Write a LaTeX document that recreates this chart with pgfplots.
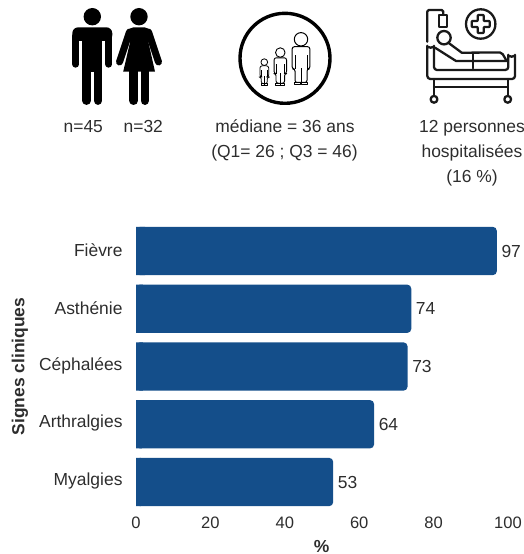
\documentclass[border=0pt]{standalone}
\usepackage{pgfplots}
\usepackage{pgfplotstable}
\pgfplotsset{compat=1.18}
\usepackage{fontspec}
\setmainfont{Liberation Sans}
\definecolor{barblue}{RGB}{20,78,138}
\definecolor{txt}{RGB}{45,45,45}
\newcommand{\lab}{\fontsize{17.5}{20}\selectfont}
\newcommand{\tic}{\fontsize{16.6}{20}\selectfont}

% Percentage of patients per clinical sign
\pgfplotstableread{
idx v
0 97
1 74
2 73
3 64
4 53
}\signes

% Outline figure standing on the ground line y=0
\newcommand{\personne}[4]{%
\begin{scope}[shift={(#1,#2)},xscale=#3,yscale=#3,line width=#4,line join=round]
  \draw (0,-45.7) circle[radius=6.7];
  \draw[rounded corners=2.2] (-8.8,-16) -- (-8.8,-38.3) -- (8.8,-38.3) -- (8.8,-16) -- (6,-16) -- (6,-2.5) -- (-6,-2.5) -- (-6,-16) -- cycle;
  \draw (-6,-16) -- (-6,-30) (6,-16) -- (6,-30) (0,-2.5) -- (0,-17);
  \draw (-6.5,-2.5) rectangle (-.5,0) (.5,-2.5) rectangle (6.5,0);
\end{scope}}

\begin{document}
\begin{tikzpicture}[x=1bp,y=-1bp]
\path[use as bounding box] (0,0) rectangle (524,554);

% Man
\begin{scope}[black]
  \fill (92.3,16.7) circle[radius=8.7];
  \fill[rounded corners=6] (72.3,41) -- (72.3,27.3) -- (112.3,27.3) -- (112.3,41) -- cycle;
  \draw[line width=7,line cap=round] (75.8,36) -- (75.8,64.2) (108.8,36) -- (108.8,64.2);
  \fill (82.3,33) rectangle (102.3,72);
  \draw[line width=8.5,line cap=round] (86.6,65) -- (86.6,100.7) (98,65) -- (98,100.7);
  % Woman
  \fill (139,16.7) circle[radius=8.7];
  \draw[line width=7,line cap=round] (129.5,32) -- (119.5,62) (148.5,32) -- (158.5,62);
  \fill[rounded corners=5] (126,42) -- (128.5,27.3) -- (149.5,27.3) -- (152,42) -- cycle;
  \fill (131.5,36) -- (123.2,71.7) -- (155,71.7) -- (147,36) -- cycle;
  \draw[line width=8.8,line cap=round] (133.6,70) -- (133.6,100.6) (144.9,70) -- (144.9,100.6);
\end{scope}

% Age group emblem
\draw[line width=3.4] (285,58.3) circle[radius=45];
\personne{301}{85}{1}{1pt}
\personne{280.3}{85}{.71}{.9pt}
\personne{264.3}{85}{.5}{.8pt}

% Hospital bed emblem
\begin{scope}[line width=2.3,line join=round,line cap=round,black!90]
  \draw[rounded corners=1.5] (427.3,41.7) -- (427.3,10) -- (443.3,10) -- (443.3,15);
  \draw (439.3,15) rectangle (446.7,26.7);
  \draw (480.7,24) circle[radius=14.7];
  \draw[rounded corners=.8] (477.7,15) -- (483.7,15) -- (483.7,21) -- (489.7,21) -- (489.7,27) -- (483.7,27) -- (483.7,33) -- (477.7,33) -- (477.7,27) -- (471.7,27) -- (471.7,21) -- (477.7,21) -- cycle;
  \draw (444,37.7) circle[radius=6.7];
  \draw[rounded corners=3] (427.3,44) arc[start angle=180,end angle=0,x radius=3.35,y radius=3.7] -- (434,70) -- (508.3,70) -- (508.3,53) arc[start angle=180,end angle=0,x radius=3.35,y radius=3.7] -- (515,79) -- (427.3,79) -- cycle;
  \draw (448.3,42.7) -- (461.7,52.7) -- (500,52.5) to[out=0,in=-90] (506.7,60);
  \draw (435,47.7) -- (456,61) -- (507.7,61);
  \draw (473.3,53.3) -- (473.3,68.3);
  \draw (434,79) -- (434,95.8) (507.7,79) -- (507.7,95.8) (434,87.3) -- (507.7,87.3);
  \draw (434,99.3) circle[radius=3.4] (507.7,99.3) circle[radius=3.4];
\end{scope}

% Captions under the emblems
\begin{scope}[every node/.style={anchor=base,text=txt,inner sep=0pt,font=\lab}]
  \node at (83.3,133) {n=45};
  \node at (143.3,133) {n=32};
  \node at (285,133) {médiane = 36 ans};
  \node at (284.5,157.5) {(Q1= 26 ; Q3 = 46)};
  \node at (472,133) {12 personnes};
  \node at (472,157.5) {hospitalisées};
  \node at (472,182.5) {(16 \%)};
\end{scope}

\begin{axis}[
  at={(136bp,-251bp)}, anchor=origin,
  scale only axis, width=372bp, height=288.75bp,
  xmin=0, xmax=100, ymin=-0.5, ymax=4.5, y dir=reverse,
  axis line style={draw=none}, major tick length=0pt, clip=false,
  xtick={0,20,40,60,80,100},
  ytick={0,1,2,3,4},
  yticklabels={Fièvre,Asthénie,Céphalées,Arthralgies,Myalgies},
  /pgf/number format/assume math mode=true,
  tick label style={text=txt},
  xticklabel style={font=\tic,yshift=-3bp},
  yticklabel style={font=\lab,xshift=-10bp,yshift=1bp},
  xlabel={\%}, ylabel={Signes cliniques},
  every axis x label/.style={at={(axis description cs:0.499,-0.1245)},anchor=center,inner sep=0pt,font=\lab\bfseries,text=txt},
  every axis y label/.style={at={(axis description cs:-0.312,0.5)},anchor=center,inner sep=0pt,rotate=90,font=\lab\bfseries,text=txt},
]
  % Rounded bars, with a short plain bar squaring off the left end
  \addplot[xbar, bar shift=0pt, bar width=48.3bp, fill=barblue, draw=none, rounded corners=4bp,
    nodes near coords, point meta=x,
    every node near coord/.style={anchor=west,inner sep=0pt,xshift=4.5bp,font=\lab,text=txt}]
    table[x=v,y=idx] {\signes};
  \addplot[xbar, bar shift=0pt, bar width=48.3bp, fill=barblue, draw=none]
    table[x expr=\thisrow{v}/40,y=idx] {\signes};
\end{axis}
\end{tikzpicture}
\end{document}
